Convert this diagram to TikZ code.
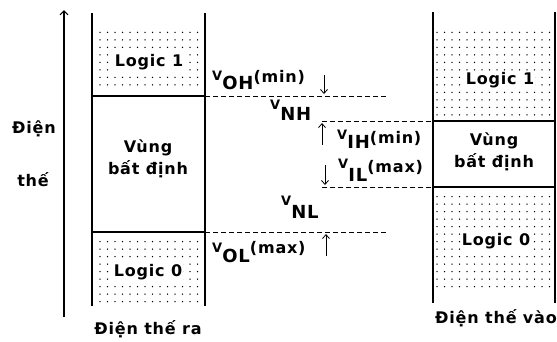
\documentclass[tikz,border=0pt]{standalone}
\usepackage{fontspec}
\setmainfont{DejaVu Sans}[LetterSpace=5]
\usetikzlibrary{arrows.meta}
\tikzset{
 boxline/.style={line width=1.2pt},
 dashline/.style={line width=0.9pt, dash pattern=on 5pt off 3pt},
 lvl/.style={-{Straight Barb[length=4pt,width=7pt]}, line width=0.8pt},
 axisarrow/.style={-{Straight Barb[length=4pt,width=8pt]}, line width=1.1pt},
 lbl/.style={font=\fontsize{16}{22}\selectfont\bfseries, inner sep=1pt, align=center},
 zlbl/.style={lbl, fill=white},
 vlbl/.style={anchor=base west, inner sep=0pt, font=\fontsize{18}{20}\selectfont\bfseries},
 dotfill/.style={fill=black},
}
\newcommand\vlab[4]{{\fontsize{13}{14}\selectfont\raisebox{#1}{V}}#2{\fontsize{16}{17}\selectfont\raisebox{#3}{#4}}}
\begin{document}
\begin{tikzpicture}[x=1pt,y=-1pt]
\useasboundingbox (0,0) rectangle (557,341);
% dot grids
\foreach \i in {0,...,13} \foreach \j in {0,...,7}
  \fill[dotfill] (100+\i*7.5, 32.3+\j*7.5) circle (0.75pt);
\foreach \i in {0,...,13} \foreach \j in {0,...,8}
  \fill[dotfill] (100+\i*7.5, 241.7+\j*7.5) circle (0.75pt);
\foreach \i in {0,...,15} \foreach \j in {0,...,11}
  \fill[dotfill] (437+\i*7.5, 32.3+\j*7.5) circle (0.75pt);
\foreach \i in {0,...,15} \foreach \j in {0,...,12}
  \fill[dotfill] (437+\i*7.5, 196.7+\j*7.5) circle (0.75pt);
% left column
\coordinate (LTL) at (92,13); \coordinate (LBL) at (92,306);
\coordinate (LTR) at (205,13); \coordinate (LBR) at (205,306);
\coordinate (LH1a) at (92,96); \coordinate (LH1b) at (205,96);
\coordinate (LH2a) at (92,232); \coordinate (LH2b) at (205,232);
\draw[boxline] (LTL) -- (LBL);
\draw[boxline] (LTR) -- (LBR);
\draw[boxline] (LH1a) -- (LH1b);
\draw[boxline] (LH2a) -- (LH2b);
% right column
\coordinate (RTL) at (433,12); \coordinate (RBL) at (433,303);
\coordinate (RTR) at (555,12); \coordinate (RBR) at (555,303);
\coordinate (RH1a) at (433,121); \coordinate (RH1b) at (555,121);
\coordinate (RH2a) at (433,187); \coordinate (RH2b) at (555,187);
\draw[boxline] (RTL) -- (RBL);
\draw[boxline] (RTR) -- (RBR);
\draw[boxline] (RH1a) -- (RH1b);
\draw[boxline] (RH2a) -- (RH2b);
% dashed levels
\coordinate (D1e) at (387,96);
\coordinate (D2s) at (322,121);
\coordinate (D3s) at (322,187);
\coordinate (D4e) at (388,232);
\draw[dashline] (LH1b) -- (D1e);
\draw[dashline] (D2s) -- (RH1a);
\draw[dashline] (D3s) -- (RH2a);
\draw[dashline] (LH2b) -- (D4e);
% axis
\coordinate (axb) at (64,317); \coordinate (axt) at (64,10);
\draw[axisarrow] (axb) -- (axt);
% small arrows
\coordinate (a1s) at (324,75); \coordinate (a1e) at (324,94);
\coordinate (a2s) at (322,145); \coordinate (a2e) at (322,123);
\coordinate (a3s) at (325,165); \coordinate (a3e) at (325,185);
\coordinate (a4s) at (326,256); \coordinate (a4e) at (326,234);
\draw[lvl] (a1s) -- (a1e);
\draw[lvl] (a2s) -- (a2e);
\draw[lvl] (a3s) -- (a3e);
\draw[lvl] (a4s) -- (a4e);
% text
\node[zlbl] (l1) at (149,62) {Logic 1};
\node[lbl] (u1) at (148,159) {Vùng\\bất định};
\node[zlbl] (l0) at (148,272) {Logic 0};
\node[lbl] (out) at (148,329) {Điện thế ra};
\node[zlbl] (r1) at (500,80) {Logic 1};
\node[lbl] (u2) at (494,152) {Vùng\\bất định};
\node[zlbl] (r0) at (496,241) {Logic 0};
\node[lbl] (in) at (496,318) {Điện thế vào};
\node[lbl] (d1) at (34,129) {Điện};
\node[lbl] (d2) at (33,180) {thế};
% voltage labels
\node[vlbl] (voh) at (212,89) {\vlab{9pt}{OH}{7pt}{(min)}};
\node[vlbl] (vnh) at (270,120) {\vlab{11pt}{NH}{0pt}{}};
\node[vlbl] (vih) at (337,148) {\vlab{9pt}{IH}{5pt}{(min)}};
\node[vlbl] (vil) at (338,181) {\vlab{13pt}{IL}{9pt}{(max)}};
\node[vlbl] (vnl) at (281,218) {\vlab{13pt}{NL}{0pt}{}};
\node[vlbl] (vol) at (212,262) {\vlab{10pt}{OL}{9pt}{(max)}};
\end{tikzpicture}
\end{document}
